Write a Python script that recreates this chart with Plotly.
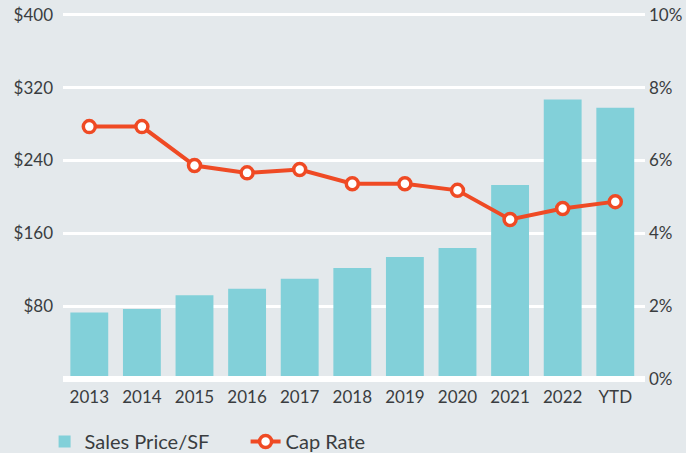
import plotly.graph_objects as go

categories = ["2013", "2014", "2015", "2016", "2017", "2018", "2019", "2020", "2021", "2022", "YTD"]
sales_price_sf = [73, 77, 92, 99, 110, 122, 134, 144, 213, 307, 298]
cap_rate = [6.93, 6.93, 5.86, 5.66, 5.75, 5.36, 5.36, 5.18, 4.38, 4.68, 4.87]

left_ticks = [80, 160, 240, 320, 400]
left_labels = ["$80", "$160", "$240", "$320", "$400"]
right_ticks = [0, 2, 4, 6, 8, 10]
right_labels = ["0%", "2%", "4%", "6%", "8%", "10%"]

BG = "#e4e9ec"
BAR = "#82d0d9"
RED = "#ef4a24"
TXT = "#3a3d40"
FONT = "Lato"

fig = go.Figure()
fig.add_trace(go.Bar(
    x=categories, y=sales_price_sf, name="Sales Price/SF",
    marker=dict(color=BAR, line=dict(width=0)), yaxis="y",
))
fig.add_trace(go.Scatter(
    x=categories, y=cap_rate, name="Cap Rate", yaxis="y2",
    mode="lines+markers",
    line=dict(color=RED, width=4),
    marker=dict(size=12, color="white", line=dict(color=RED, width=3.5)),
))

fig.update_layout(
    width=686, height=453,
    margin=dict(l=63, r=41, t=13.2, b=73.5, autoexpand=False),
    paper_bgcolor=BG, plot_bgcolor=BG,
    font=dict(family=FONT, size=17, color=TXT),
    bargap=0.28,
    showlegend=True,
    legend=dict(orientation="h", xref="container", yref="paper",
                x=0.065, xanchor="left", y=-0.1706, yanchor="middle",
                font=dict(size=20, color=TXT), bgcolor="rgba(0,0,0,0)",
                entrywidth=156, entrywidthmode="pixels", traceorder="normal"),
    xaxis=dict(type="category", range=[-0.5, 10.565], showgrid=False, zeroline=False,
               showline=False, ticks="", ticklabelstandoff=6, automargin=False,
               tickfont=dict(size=17, color=TXT)),
    yaxis=dict(range=[0, 402], tickvals=left_ticks, ticktext=left_labels,
               showgrid=True, gridcolor="white", gridwidth=3, zeroline=False,
               showline=False, ticks="", ticklabelstandoff=9, automargin=False,
               tickfont=dict(size=17, color=TXT)),
    yaxis2=dict(range=[0, 10.05], tickvals=right_ticks, ticktext=right_labels,
                overlaying="y", side="right", showgrid=False, zeroline=False,
                showline=False, ticks="", ticklabelstandoff=3, automargin=False,
                tickfont=dict(size=17, color=TXT)),
    shapes=[dict(type="line", xref="paper", yref="paper", x0=0, x1=1, y0=0, y1=0,
                 line=dict(color="white", width=6), layer="above")],
)

fig.write_html("out.html", config={"displayModeBar": False},
               post_script="document.body.style.margin='0';")
